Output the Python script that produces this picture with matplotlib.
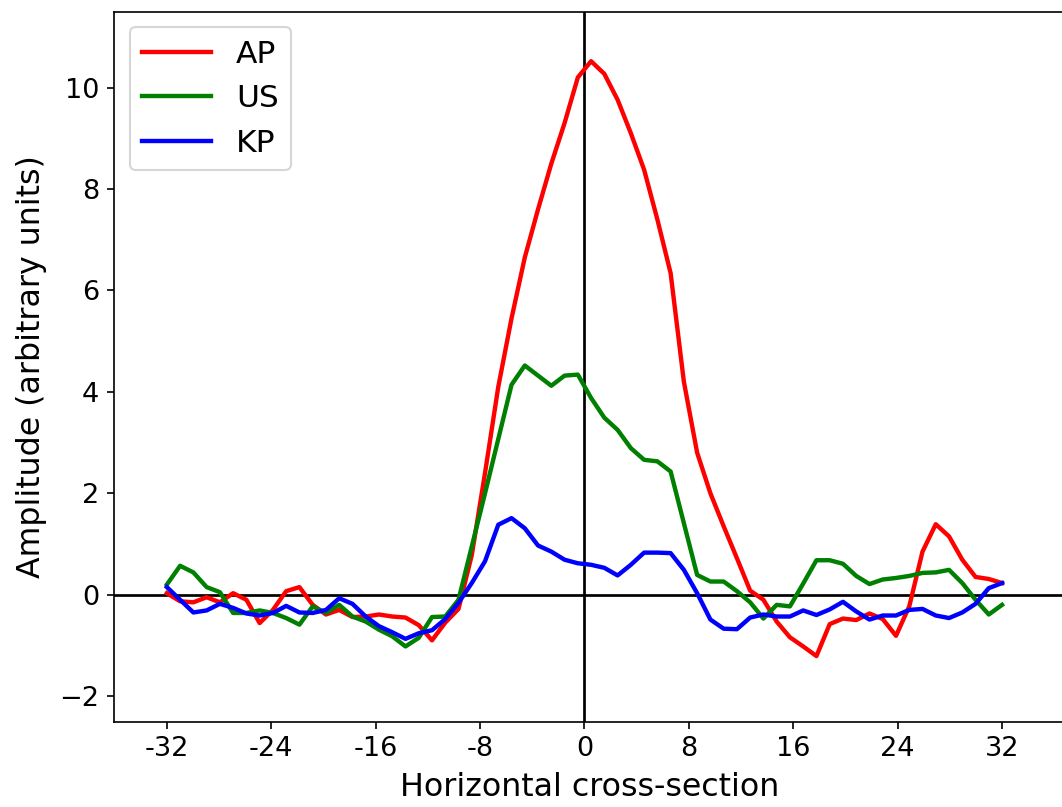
import numpy as np
import matplotlib
matplotlib.use("Agg")
import matplotlib.pyplot as plt

# sample grid of the cross-section (64 samples from -32 to 32)
x_start, x_stop, n_samples = -32, 32, 64

ap = [0.03, -0.13, -0.15, -0.05, -0.15, 0.03, -0.10, -0.56, -0.30, 0.07,
      0.15, -0.20, -0.39, -0.30, -0.44, -0.43, -0.39, -0.43, -0.45, -0.60,
      -0.90, -0.55, -0.28, 0.78, 2.40, 4.10, 5.45, 6.65, 7.60, 8.50,
      9.30, 10.20, 10.52, 10.27, 9.76, 9.10, 8.38, 7.40, 6.34, 4.20,
      2.80, 2.00, 1.35, 0.72, 0.08, -0.10, -0.53, -0.84, -1.02, -1.21,
      -0.58, -0.47, -0.50, -0.37, -0.48, -0.81, -0.23, 0.85, 1.39, 1.15,
      0.69, 0.35, 0.31, 0.23]

us = [0.20, 0.57, 0.44, 0.15, 0.05, -0.36, -0.36, -0.31, -0.36, -0.46,
      -0.59, -0.23, -0.36, -0.20, -0.43, -0.53, -0.69, -0.82, -1.02, -0.85,
      -0.44, -0.43, -0.10, 0.95, 2.00, 3.07, 4.14, 4.52, 4.32, 4.12,
      4.32, 4.34, 3.88, 3.49, 3.25, 2.89, 2.66, 2.63, 2.43, 1.41,
      0.39, 0.26, 0.26, 0.07, -0.15, -0.47, -0.20, -0.23, 0.22, 0.68,
      0.68, 0.61, 0.37, 0.21, 0.30, 0.33, 0.37, 0.43, 0.44, 0.49,
      0.23, -0.10, -0.39, -0.20]

kp = [0.15, -0.10, -0.35, -0.31, -0.18, -0.26, -0.37, -0.41, -0.36, -0.22,
      -0.35, -0.36, -0.30, -0.07, -0.18, -0.43, -0.62, -0.74, -0.87, -0.76,
      -0.70, -0.48, -0.16, 0.23, 0.66, 1.38, 1.51, 1.31, 0.97, 0.85,
      0.69, 0.62, 0.59, 0.53, 0.38, 0.59, 0.83, 0.83, 0.82, 0.49,
      0.03, -0.49, -0.67, -0.68, -0.45, -0.39, -0.43, -0.43, -0.31, -0.40,
      -0.29, -0.14, -0.33, -0.49, -0.41, -0.41, -0.30, -0.28, -0.41, -0.46,
      -0.35, -0.18, 0.13, 0.23]

series_names = ["AP", "US", "KP"]
xtick_values = [-32, -24, -16, -8, 0, 8, 16, 24, 32]
xtick_labels = ["-32", "-24", "-16", "-8", "0", "8", "16", "24", "32"]
ytick_values = [-2, 0, 2, 4, 6, 8, 10]

x = np.linspace(x_start, x_stop, n_samples)

W, H, DPI = 1062, 807, 150
fig = plt.figure(figsize=(W / DPI, H / DPI), dpi=DPI)

xlim = (-36.05, 36.8)
ylim = (-2.5, 11.5)
left_px, right_px = 114, 114 + (xlim[1] - xlim[0]) * 13.05
top_px, bottom_px = 11.5, 721.5
ax = fig.add_axes([left_px / W, 1 - bottom_px / H,
                   (right_px - left_px) / W, (bottom_px - top_px) / H])

ax.axhline(0, color="black", lw=1.3, zorder=1)
ax.axvline(0, color="black", lw=1.3, zorder=1)

for vals, name, col in zip([ap, us, kp], series_names, ["red", "green", "blue"]):
    ax.plot(x, vals, color=col, lw=2.1, label=name, zorder=2)

ax.set_xlim(*xlim)
ax.set_ylim(*ylim)
ax.set_xticks(xtick_values)
ax.set_xticklabels(xtick_labels)
ax.set_yticks(ytick_values)
ax.tick_params(labelsize=13)
ax.set_xlabel("Horizontal cross-section", fontsize=15.2, labelpad=5)
ax.set_ylabel("Amplitude (arbitrary units)", fontsize=15.2, labelpad=6)
ax.legend(loc="upper left", fontsize=15, handlelength=2.2)

fig.savefig("out.png", dpi=DPI)
